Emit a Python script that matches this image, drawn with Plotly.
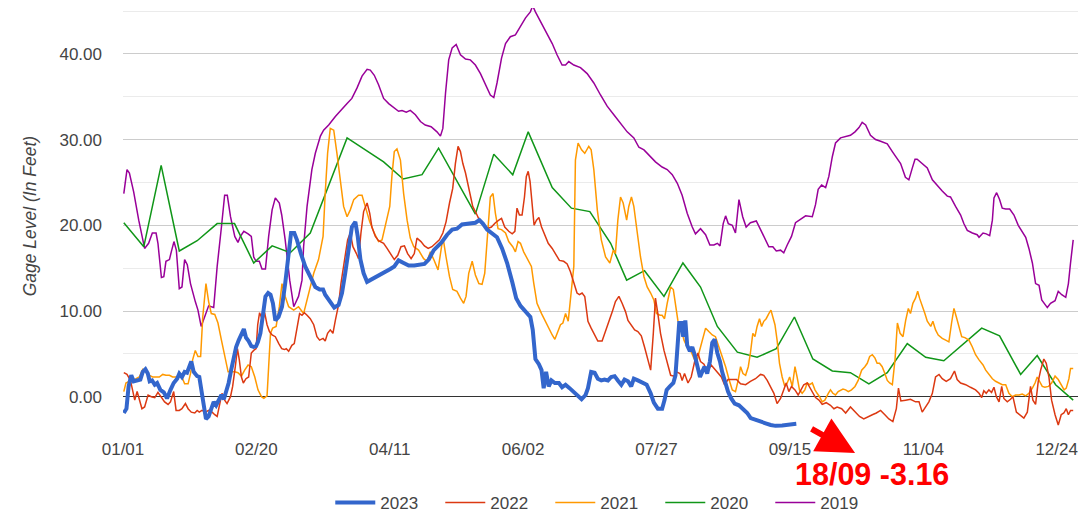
import plotly.graph_objects as go

# ---------------- data (x = day position on the category axis) ----------------
tick_pos = [0, 50, 100, 150, 200, 250, 300, 350]
tick_labels = ["01/01", "02/20", "04/11", "06/02", "07/27", "09/15", "11/04", "12/24"]

x2023 = [0.3,1.3,2.1,3.1,4,5.3,6.5,7.4,8.4,9.3,10,10.9,11.9,12.8,14,15.3,16.5,17.8,19,20.3,21.1,22.1,23.1,24,24.9,25.6,26.5,27.8,28.6,29.4,30.3,31.1,32.1,33.1,34,34.9,35.9,36.9,37.8,38.6,39.6,40.6,41.5,42.4,43.4,44.4,45.3,46.1,47.1,48.1,49,49.9,50.6,51.5,52.4,53.4,54.4,55.3,56.2,57.1,58.3,59.6,60.8,62.1,63,64.2,65.2,66.7,68.3,70.2,72.1,73.7,75,75.8,77.5,79.2,80.8,82.1,83.3,84.6,85.8,87.1,88,89,90.2,91.5,93.3,95,96.5,98.3,100.2,101.7,103.3,105.2,107.1,109.2,111.5,113,114.6,116.5,119.4,121.5,123.4,125.2,127.1,129,130.9,132.1,133.6,134.9,136.5,138.4,140.2,142.1,144,145.9,147.4,149,150.9,152.7,153.6,154.6,155.9,156.9,157.7,158.6,159.6,160.6,161.9,163.4,164.6,165.9,167.4,169,170.6,171.9,173.4,174.3,175.5,176.8,178,179.3,180.5,181.8,183,184.3,185.5,186.8,188,189.3,190.5,191.5,193,194.6,196.3,197.8,199,200.5,202.1,203,203.8,205,206.3,207.1,207.8,208.5,209.4,210,210.8,211.5,212.5,213.4,214.3,215.3,216.3,217.1,218,219,220,220.9,221.8,222.8,223.8,224.6,225.5,226.8,228,229.3,230.9,232.1,232.8,234,235.3,236.9,238.6,240.9,242.8,244.6,247.1,249.6,252.4]
v2023 = [-1.9,-1.4,1.2,2.5,1.8,1.9,2.0,2.9,3.2,2.7,1.8,1.9,1.4,1.6,0.8,0.5,-0.2,0.8,1.6,2.1,2.7,2.3,2.9,2.8,3.5,4.1,2.9,2.4,2.3,0.8,-1.4,-2.6,-2.3,-1.4,-0.6,-1.0,-0.4,0.2,-0.3,0.4,1.6,3.2,4.7,5.8,6.6,7.4,7.9,6.9,6.5,5.9,5.8,5.9,6.4,7.4,9.3,11.7,12.1,11.9,10.9,8.9,9.3,10.5,13.2,16.7,19.1,19.1,18.3,16.7,15.2,14.0,12.8,12.5,12.5,11.9,11.2,10.4,10.7,12.1,14.4,17.5,19.8,20.4,18.7,16.0,14.4,13.4,13.7,14.0,14.2,14.6,14.9,15.2,15.9,15.6,15.3,15.3,15.4,15.5,16.0,17.1,18.0,18.9,19.5,19.6,20.1,20.2,20.2,20.3,20.6,20.2,19.5,19.1,18.6,17.3,15.6,13.4,11.5,10.6,9.9,9.3,7.8,4.4,3.8,3.1,1.0,2.9,1.2,1.9,1.6,1.6,1.1,1.4,1.0,0.5,0.0,-0.3,0.2,1.0,2.9,2.8,2.1,1.9,2.0,1.9,2.3,2.4,1.9,1.4,2.0,1.8,1.2,2.1,1.9,1.6,1.4,0.4,-0.7,-1.4,-1.4,-0.4,0.8,1.2,1.6,2.5,5.8,8.6,8.6,7.0,8.9,6.0,5.3,5.8,4.9,3.5,2.3,2.9,3.5,2.7,4.1,6.3,6.7,5.1,4.1,2.9,1.8,0.6,-0.2,-0.8,-1.0,-1.3,-1.6,-1.9,-2.5,-2.7,-2.8,-3.1,-3.3,-3.4,-3.35,-3.3,-3.16]

x2022 = [0.3,1.5,2.8,3.6,4.4,5.3,6.1,7.1,8.1,9.4,10.6,11.9,13.1,14.4,15.6,16.9,17.8,19,19.9,21.1,22.1,23.4,24.4,25.6,26.9,27.8,28.6,29.6,30.9,32.1,33.4,34.4,35.3,36.1,37.1,38.1,39,40.3,41.1,42.1,42.9,43.6,44.4,45.1,46.1,47.1,48.1,49,49.9,50.5,51.2,52.4,53.1,54,54.9,55.9,57.1,58.4,59.5,60.5,61.2,62.1,63.3,64.2,65.2,66.2,67.1,68,69,70.2,71.5,72.7,73.7,75,75.8,76.7,77.7,78.7,79.6,80.8,81.7,83,84.2,85.2,86.2,87.5,88.3,89.2,90.2,91.5,92.5,93.3,94.6,95.8,97.7,99,100.2,101.7,103,104.2,105.5,106.7,108,109.2,110.2,111.7,113,114.4,115.8,117.3,118.6,119.9,121.1,122.4,123.6,124.6,125.6,126.5,127.4,128.4,129.4,130.2,131.1,132.4,133.6,134.9,136.5,138.1,139.6,140.9,141.9,143.1,144.6,145.9,146.9,147.7,148.6,149.6,150.5,151.2,151.9,152.6,153.4,154.1,155,155.9,156.9,158.1,159.4,160.9,162.4,163.6,165.2,166.5,167.7,169,170.2,171.1,172.1,173.1,174.3,175.5,176.8,178,179.6,180.9,182.1,183.4,184.6,185.9,187.1,188.4,189.3,190.5,191.8,193,194.3,195.5,196.8,197.8,198.8,199.6,200.5,201.5,202.8,204,205.3,206.5,207.5,208.8,209.6,210.5,211.8,213,214.3,215.5,216.5,217.8,219,220.5,221.5,222.8,224.3,225.5,226.8,228.4,230,231.5,233.4,235.2,237.1,239,240.2,241.5,242.7,244,245.2,246.5,247.7,248.6,249.6,250.6,251.9,253.1,254,255.2,256.5,257.4,258.4,259.6,260.9,262.1,263.6,265.2,266.5,267.7,269.4,270.9,272.7,274.4,276.1,277.7,279.4,280.9,282.4,284,285.6,287.1,288.6,289.9,290.7,291.6,293.4,295.2,297.1,298.4,299.6,300.9,302.1,303.4,304.6,305.9,307.1,308.6,310.2,311.7,312.7,314,315.9,317.7,319.6,320.9,321.9,322.7,323.6,324.6,325.6,326.5,327.4,328.4,329.4,330.2,331.5,332.7,333.6,334.9,336.1,337.7,339,340.2,341.1,342.1,343.1,344,345.2,346.1,347.1,348.1,349.4,350.6,351.7,352.7,353.6,354.4,355.2,356.2]
v2022 = [2.8,2.6,1.9,0.8,-0.4,0.6,-0.4,-1.4,-1.2,0.2,0.0,-0.1,0.5,-0.1,-0.6,-0.9,-0.6,0.6,-1.6,-1.6,-1.4,-0.8,-1.4,-1.8,-1.9,-1.6,-1.8,-1.6,-1.8,-1.6,-1.8,-2.1,-2.3,-1.1,0.4,-0.4,-0.8,0.0,1.2,3.5,5.6,4.3,2.3,1.6,2.1,2.3,5.1,5.4,5.6,8.4,9.8,8.9,9.8,8.4,7.6,7.2,7.0,6.2,5.6,5.5,5.6,5.3,6.0,6.2,8.2,9.7,9.5,9.8,9.5,9.1,8.4,7.0,6.6,6.8,6.5,7.4,7.8,7.4,8.9,10.7,13.2,16.0,18.3,19.1,17.5,16.7,16.1,19.1,21.6,22.6,21.4,19.8,18.7,18.2,17.9,17.3,16.7,16.0,16.5,17.5,17.6,16.7,16.1,16.7,18.5,18.1,17.6,17.3,17.5,17.9,18.3,19.1,20.4,22.6,24.3,27.2,29.2,28.6,27.2,26.1,24.7,23.2,22.2,21.4,20.6,20.0,19.6,19.8,20.3,20.6,20.8,19.8,19.3,19.0,19.3,22.0,21.2,21.2,23.3,25.7,26.3,25.1,22.2,20.0,20.6,20.9,19.8,18.9,17.9,17.3,16.5,15.9,15.8,15.5,14.6,13.4,12.1,11.9,12.1,11.7,8.8,8.0,7.2,6.5,6.5,7.6,8.8,9.9,11.1,11.7,10.9,9.9,8.9,8.4,7.8,7.6,7.1,5.8,4.3,3.1,7.4,11.5,9.7,7.4,5.4,3.9,2.5,2.4,2.9,2.7,1.9,2.7,1.6,2.3,4.1,5.1,4.1,3.8,2.9,3.7,3.3,2.9,2.3,1.4,2.0,2.0,2.0,1.5,1.4,1.8,2.1,2.6,2.5,1.9,1.1,0.4,-0.8,-0.2,0.8,1.6,0.6,1.2,0.8,0.2,0.7,1.4,1.6,1.1,0.4,-0.1,-0.4,-0.9,-0.7,-1.0,-1.4,-1.2,-1.4,-1.9,-1.2,-1.8,-2.3,-2.6,-2.3,-2.1,-1.9,-1.6,-2.1,-2.6,-2.9,-1.4,1.0,-0.5,-0.4,-0.3,-0.6,-0.6,-1.8,-1.2,-0.6,0.4,2.3,2.6,2.1,1.8,2.1,3.0,2.0,1.6,1.4,1.1,0.8,0.4,-0.1,0.7,0.4,0.8,0.5,1.1,0.0,-0.6,1.2,-0.2,-0.6,-0.3,0.0,-1.8,-2.1,-2.5,-1.8,1.2,-0.4,-0.9,1.8,3.1,4.4,3.9,2.3,-0.4,-2.1,-3.3,-2.1,-1.9,-1.4,-2.1,-1.6,-1.6]

x2021 = [0.3,1.1,2.4,3.6,4.9,6.1,7.4,8.6,9.9,11.1,12.4,13.6,14.9,16.1,17.4,18.6,19.9,21.1,22.1,23.1,24.4,25.3,26.1,27.1,28.1,29.1,29.9,31.1,32.1,33.1,34.4,35.6,36.9,38.1,39.4,40.6,41.9,43.1,44.4,45.6,46.9,48.1,49.4,50.6,51.9,52.8,54,54.6,55.3,56.1,57.4,58.6,59.6,60.8,62.1,64,65.8,67.7,69.6,71.5,73.3,75,75.8,76.7,77.7,79,80.2,81.5,82.7,84,85.2,86.5,88.3,89.6,90.8,92.5,94.2,95.8,97.1,98.3,100,100.8,101.7,102.7,104,105.2,106.5,107.7,109,110.8,112.7,114,115.2,116.5,118.1,119.6,120.2,121.1,122.4,123.6,125.2,126.5,127.7,128.6,129.6,130.9,132.1,133.4,134.6,135.6,136.9,137.7,138.7,139.6,140.6,141.9,143.4,144.6,146.1,147.1,148.1,149,150.2,151.5,153.1,154,155.2,156.9,158.1,159.6,160.9,161.9,163.1,164,164.9,165.9,166.9,168.1,169,169.6,170.6,171.9,173.1,174.6,175.5,176.5,177.8,179.3,180.9,182.5,183.8,184.6,185.5,186.5,187.5,188.8,189.6,190.6,191.5,192.8,194,195.3,196.5,197.8,199,200,201.3,202.1,203,204,205.3,206.3,207.1,208,209,210.3,211.5,212.8,214,215,215.9,217.1,218.4,219.6,220.9,222.1,223.4,224.6,225.9,227.1,228.4,229.6,230.6,231.5,232.4,233.4,234.4,235.2,236.1,236.9,237.7,238.6,239.4,240.2,241.1,242.1,242.9,243.6,244.4,245.2,246.1,247.1,248.1,249,249.9,250.9,251.9,252.7,253.6,254.6,255.6,256.5,257.4,258.4,259.4,260.2,261.1,262.1,263.1,264.4,265.2,266.1,267.1,268.1,269,269.9,270.9,271.9,273.1,274.4,275.6,276.9,278.1,279,279.9,280.9,281.9,282.7,283.6,284.6,285.6,286.5,287.4,288.4,289.4,290.3,291.3,292.4,293.4,294.4,295.2,296.1,297.1,297.9,298.6,299.6,300.6,301.5,302.8,303.6,304.6,305.6,307.1,308.4,309.6,310.6,311.5,312.4,313.4,314.4,315.6,317.1,318.4,319.6,320.9,322.4,323.4,324.4,325.9,327.1,328.6,329.6,330.9,332.1,333.4,334.6,335.9,337.1,338.4,339.6,340.9,341.9,342.7,343.6,344.6,345.6,346.9,348.1,349.4,350.6,351.9,352.8,353.6,354.6,355.2,356.2]
v2021 = [0.6,1.6,1.8,1.9,2.1,2.3,3.2,3.0,2.5,2.3,2.3,2.3,2.6,2.5,2.5,2.3,2.3,2.5,2.3,1.5,1.5,2.7,4.3,5.4,4.7,4.7,9.3,13.2,11.1,9.7,9.6,8.6,6.6,4.7,2.9,2.9,2.9,2.8,2.4,3.1,3.7,3.5,2.3,0.8,0.0,-0.2,0.1,3.5,7.4,8.0,8.2,10.5,13.2,11.7,10.5,10.1,10.5,9.7,12.1,14.4,16.0,18.7,23.7,28.4,31.3,31.1,28.4,24.9,22.2,21.0,21.8,23.0,23.5,23.5,22.2,20.4,19.1,18.1,18.3,19.8,22.2,25.7,28.6,28.9,27.6,23.7,20.6,18.5,17.5,17.1,16.1,15.8,16.9,16.0,14.8,17.9,18.1,16.3,14.0,12.5,12.3,11.5,10.9,11.7,14.4,15.8,14.2,13.2,13.1,14.4,20.6,23.3,23.7,21.4,19.6,19.5,19.1,18.1,17.5,16.9,18.1,17.9,16.9,16.1,15.2,13.2,10.9,9.7,8.9,8.0,7.2,6.7,7.8,8.4,8.6,9.7,8.8,12.5,15.2,27.6,29.6,28.8,28.4,29.2,28.8,26.5,21.8,18.3,16.3,15.6,17.1,16.7,20.6,23.3,22.6,20.6,22.2,23.3,22.2,19.1,16.3,14.0,12.8,12.1,11.3,9.7,9.5,9.5,9.1,10.9,12.8,12.5,10.9,8.9,8.2,6.6,5.8,5.4,4.5,3.9,5.1,6.6,8.0,7.6,7.2,7.0,5.8,4.7,3.5,2.1,0.8,0.6,1.9,3.5,2.7,2.5,3.5,5.1,7.4,7.0,8.2,9.1,8.2,8.8,9.1,9.7,10.1,9.3,8.4,6.6,3.9,2.3,1.2,1.6,2.3,1.2,3.5,2.3,0.8,0.4,0.8,1.6,1.4,1.6,0.8,0.4,0.0,-0.6,-0.4,0.4,0.8,0.4,0.2,0.6,0.8,0.9,0.8,0.6,0.8,1.2,1.9,3.1,3.5,3.9,4.7,4.9,4.5,3.9,3.9,3.5,2.7,1.9,1.6,1.4,4.3,8.6,7.4,7.0,8.9,10.3,9.7,10.9,11.5,12.3,11.5,10.7,9.7,8.8,8.2,8.8,7.8,7.2,6.8,6.6,6.4,8.6,10.3,9.3,8.2,7.0,6.9,6.6,5.8,4.9,4.3,3.7,3.1,2.7,2.1,1.8,1.6,1.4,1.4,0.4,0.0,0.2,0.2,0.3,0.1,0.4,1.0,1.6,2.3,1.8,1.2,1.1,1.2,1.6,2.4,2.0,1.2,0.8,1.0,2.1,3.3,3.3]

x2020 = [0.3,7.8,14.3,21.1,27.8,35.3,41.8,49,55.9,62.7,70.2,84,97.7,105,112.1,118.3,132.1,139,146.1,151.9,160.9,168.1,175,182.8,188.8,195.5,202.8,209.9,216.5,222.8,230.3,237.7,244.9,251.7,258.6,265.9,272.7,279.6,286.5,294,300.9,307.7,321.9,328.6,336.5,342.7,349.6,356.2]
v2020 = [20.3,17.5,27.0,17.0,18.2,20.2,20.2,15.6,17.6,16.8,19.1,30.2,27.4,25.4,25.9,29.0,21.3,28.3,25.9,30.9,24.4,22.0,21.6,17.9,13.6,14.7,11.7,15.6,12.8,8.2,5.2,4.6,5.6,9.3,4.4,3.0,2.8,1.5,2.8,6.2,4.6,4.2,8.0,7.1,2.6,4.8,1.4,-0.4]

x2019 = [0.3,1.5,2.4,4,5.9,8.1,9.6,11,12.4,13.1,14.4,15.3,16.1,17.4,18.1,19.1,20,21.1,22.1,23.1,24.1,25.3,27.1,28.1,29.3,30.6,32.1,34,35.3,36.9,38.1,39.1,40.3,41.9,43.1,44,45.3,46.9,48.1,49,49.9,51.1,52.1,53.4,54.6,55.9,57.1,58.6,59.5,60.8,62.5,64,65.8,67.1,67.7,69,70.8,72.1,74,75.2,77.1,79.6,81.5,84,85.8,87.7,89.6,91.5,92.7,94.2,95.8,97.7,99.6,101.7,103.3,104.6,106.2,107.7,109.6,111.5,113.3,115.5,117.7,119,119.9,120.9,122.1,123.4,124.9,126.5,128.4,130.2,132.1,134,135.9,137.7,139,140.2,141.9,143.4,145.2,147.1,149,150.9,152.7,153.6,154.6,156.5,158.4,160.9,162.7,164.6,165.9,167.1,169,171.5,174,176.5,179,181.5,184,186.5,189,191.5,193.4,195.3,197.1,199.6,202.1,204,205.9,207.8,209.6,211.5,213.4,214.6,216.5,218.4,220,221.5,222.8,223.8,225,225.9,226.9,228.4,229.6,230.9,232.3,233.6,235.2,237.4,239,240.9,242.1,243.6,244.9,246.5,247.7,249,250.6,252.1,254,255.9,258.4,259.6,260.6,261.9,263.4,264.6,265.9,267.1,269,270.9,272.7,274.4,275.9,277.1,278.4,280.2,282.1,284,286.5,288.4,289.8,291.5,293.3,294.6,295.9,296.9,297.7,299.4,301.5,303.4,305.2,307.1,309,310.2,312.1,314,315.2,316.5,318.4,320.2,320.9,322.4,323.6,324.9,325.9,326.5,327.5,328.6,329.6,330.9,332.4,334,335.6,337.1,338.4,339.6,340.9,342.1,343.4,344.4,345.2,346.5,347.7,349.4,350.6,351.9,353.4,354.4,355.2,356.2]
v2019 = [23.7,26.5,26.1,23.9,20.6,17.3,17.9,19.1,19.1,17.9,13.9,14.0,15.8,16.0,16.9,18.1,17.1,12.6,12.8,16.0,15.4,13.2,11.1,10.1,8.2,9.3,10.6,10.4,15.2,19.8,23.5,23.5,21.0,18.7,18.0,18.7,19.3,19.0,18.7,16.3,15.8,15.8,14.9,14.9,18.7,21.8,23.2,22.6,21.2,18.3,13.6,10.5,11.7,13.6,17.5,22.2,26.5,28.4,30.4,31.1,31.7,32.7,33.3,34.2,34.8,36.0,37.4,38.2,38.1,37.5,36.4,34.8,34.2,33.7,33.3,33.4,33.2,33.4,32.9,32.1,31.7,31.5,30.9,30.4,31.3,35.4,39.3,40.7,41.1,39.9,39.4,39.3,38.7,37.7,36.4,35.2,34.9,36.6,39.5,41.2,42.0,42.2,43.2,44.2,44.9,45.6,44.9,43.8,42.8,41.2,39.9,38.7,38.7,39.1,38.7,38.4,37.7,36.6,35.2,33.9,32.9,31.9,30.9,30.2,29.1,28.8,28.2,27.4,26.8,26.5,25.9,24.9,23.5,21.4,19.8,19.0,19.6,18.9,17.7,17.7,17.9,17.6,20.2,21.1,20.2,20.0,19.1,23.0,21.0,19.8,20.3,20.5,19.5,18.3,17.5,17.5,17.0,17.1,16.8,17.7,18.7,20.3,20.7,21.1,21.0,22.4,24.2,24.7,24.4,25.7,28.0,29.6,30.2,30.4,30.5,30.9,31.4,32.0,31.7,30.5,30.0,29.8,29.5,28.6,28.0,27.2,25.6,25.3,26.7,27.7,27.7,27.2,26.7,25.3,24.6,24.0,23.4,23.3,22.2,21.2,20.2,19.4,19.1,18.9,18.6,19.1,19.0,18.8,20.6,23.2,23.8,23.0,22.0,21.9,21.9,21.2,20.0,19.3,18.6,17.3,15.6,13.2,13.0,11.3,11.0,10.4,10.9,11.2,12.3,11.9,11.6,13.2,15.6,18.3]

series = [
    ("2023", x2023, v2023, "#3366cc", 4.0, 1),
    ("2022", x2022, v2022, "#dc3912", 1.5, 2),
    ("2021", x2021, v2021, "#ff9900", 1.5, 3),
    ("2020", x2020, v2020, "#109618", 1.5, 4),
    ("2019", x2019, v2019, "#990099", 1.5, 5),
]

fig = go.Figure()
# draw bottom-up so that 2023 sits on top, legend order kept by legendrank
for name, xs, ys, color, width, rank in reversed(series):
    fig.add_trace(go.Scatter(
        x=xs, y=ys, name=name, mode="lines",
        line=dict(color=color, width=width),
        legendrank=rank, hoverinfo="skip", cliponaxis=False,
    ))

# plot area (figure px): left 114.7, right 1070, top 0, bottom 423
PL, PR, PT, PB = 114.7, 1070.0, 0.0, 423.0
PW, PH = PR - PL, PB - PT

def px(xp):
    return (xp - PL) / PW

def py(yp):
    return (PB - yp) / PH

fig.update_layout(
    width=1089, height=520,
    margin=dict(l=PL, r=1089 - PR, t=PT, b=520 - PB),
    plot_bgcolor="white", paper_bgcolor="white",
    font=dict(family="Liberation Sans, Arial, sans-serif", size=17, color="#444444"),
    showlegend=True,
    legend=dict(orientation="h", x=0.505, xanchor="center", y=py(495), yanchor="middle",
                itemwidth=40, entrywidth=55, entrywidthmode="pixels",
                font=dict(size=17, color="#444444"), traceorder="normal"),
    hovermode=False,
)
fig.update_xaxes(
    range=[0, 358], tickmode="array", tickvals=tick_pos, ticktext=tick_labels,
    showgrid=False, zeroline=False, showline=False, ticks="", automargin=False,
    ticklabelstandoff=6, tickfont=dict(size=17, color="#444444"),
)
fig.update_yaxes(
    range=[-4, 45.35], tick0=0, dtick=10, tickformat=".2f",
    showgrid=True, gridcolor="#cccccc", gridwidth=1,
    minor=dict(tick0=0, dtick=5, showgrid=True, gridcolor="#ebebeb", gridwidth=1),
    zeroline=True, zerolinecolor="#333333", zerolinewidth=1,
    showline=False, ticks="", ticklabelstandoff=20, automargin=False,
    tickfont=dict(size=17, color="#444444"),
)

# y-axis title
fig.add_annotation(
    text="<i>Gage Level (In Feet)</i>", textangle=-90,
    xref="paper", yref="paper", x=px(22), y=py(208),
    xanchor="center", yanchor="middle", showarrow=False,
    font=dict(size=17.5, color="#444444"),
)
# red arrow
fig.add_annotation(
    text="", xref="paper", yref="paper",
    x=px(847), y=py(445),
    ax=-45, ay=-25, axref="pixel", ayref="pixel",
    showarrow=True, arrowhead=2, arrowsize=1.25, arrowwidth=6,
    arrowcolor="#ff0000", standoff=0, startstandoff=0,
)
# red label
fig.add_annotation(
    text="<b>18/09 -3.16</b>", xref="paper", yref="paper",
    x=px(864), y=py(466),
    xanchor="center", yanchor="middle", showarrow=False,
    font=dict(family="Liberation Sans Narrow, Arial Narrow, Liberation Sans, Arial", size=30.5, color="#ff0000"),
)

fig.write_html("out.html")
